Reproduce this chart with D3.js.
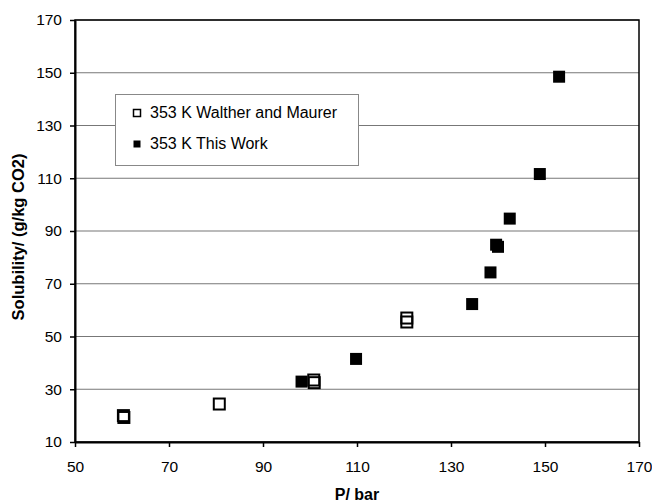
<!DOCTYPE html>
<html>
<head>
<meta charset="utf-8">
<script src="https://cdn.jsdelivr.net/npm/d3@7"></script>
<style>
  body { margin: 0; background: #fff; }
  text { font-family: "Liberation Sans", Arial, sans-serif; }
</style>
</head>
<body>
<div id="chart"></div>
<script>
// Walther and Maurer (open squares)
const waltherP = [60.3, 60.4, 80.7, 100.8, 100.9, 120.6, 120.6];
const waltherS = [20.0, 19.3, 24.4, 33.5, 32.5, 57.0, 55.5];

// This work (filled squares)
const workP = [98.2, 109.8, 134.5, 138.4, 139.6, 140.0, 142.5, 148.9, 153.0];
const workS = [32.9, 41.5, 62.3, 74.3, 84.8, 84.0, 94.7, 111.6, 148.5];

const xTicks = [50, 70, 90, 110, 130, 150, 170];
const yTicks = [10, 30, 50, 70, 90, 110, 130, 150, 170];

const legendLabels = ['353 K Walther and Maurer', '353 K This Work'];

const width = 652, height = 504;
const margin = { left: 75, right: 13, top: 20, bottom: 62 };

const svg = d3.select('#chart')
    .append('svg')
    .attr('width', width)
    .attr('height', height);

const x = d3.scaleLinear().domain([50, 170]).range([margin.left, width - margin.right]);
const y = d3.scaleLinear().domain([10, 170]).range([height - margin.bottom, margin.top]);

// Gridlines
svg.append('g')
    .selectAll('line')
    .data(yTicks)
    .enter()
    .append('line')
    .attr('x1', x(50))
    .attr('x2', x(170))
    .attr('y1', d => y(d))
    .attr('y2', d => y(d))
    .attr('stroke', '#777')
    .attr('stroke-width', 1.2);

// Plot border
svg.append('rect')
    .attr('x', x(50))
    .attr('y', y(170))
    .attr('width', x(170) - x(50))
    .attr('height', y(10) - y(170))
    .attr('fill', 'none')
    .attr('stroke', '#000')
    .attr('stroke-width', 1.5);

// Axes
const xAxis = svg.append('g')
    .attr('transform', `translate(0,${y(10)})`)
    .call(d3.axisBottom(x).tickValues(xTicks).tickSize(5).tickPadding(14).tickSizeOuter(0));
const yAxis = svg.append('g')
    .attr('transform', `translate(${x(50)},0)`)
    .call(d3.axisLeft(y).tickValues(yTicks).tickSize(5).tickPadding(8).tickSizeOuter(0));

[xAxis, yAxis].forEach(a => {
    a.select('.domain').attr('stroke', '#000').attr('stroke-width', 2);
    a.selectAll('.tick line').attr('stroke', '#000').attr('stroke-width', 1.5);
    a.selectAll('.tick text')
        .attr('fill', '#000')
        .style('font-size', '15.5px')
        .style('font-family', '"Liberation Sans", Arial, sans-serif');
});

// Axis titles
svg.append('text')
    .attr('x', (x(50) + x(170)) / 2)
    .attr('y', 500)
    .attr('text-anchor', 'middle')
    .style('font-size', '16px')
    .style('font-weight', 'bold')
    .text('P/ bar');

svg.append('text')
    .attr('transform', 'translate(24,237) rotate(-90)')
    .attr('text-anchor', 'middle')
    .style('font-size', '16.5px')
    .style('font-weight', 'bold')
    .text('Solubility/ (g/kg CO2)');

// Markers
const size = 11;
svg.append('g')
    .selectAll('rect')
    .data(waltherP.map((p, i) => [p, waltherS[i]]))
    .enter()
    .append('rect')
    .attr('x', d => x(d[0]) - size / 2)
    .attr('y', d => y(d[1]) - size / 2)
    .attr('width', size)
    .attr('height', size)
    .attr('fill', 'none')
    .attr('stroke', '#000')
    .attr('stroke-width', 2);

svg.append('g')
    .selectAll('rect')
    .data(workP.map((p, i) => [p, workS[i]]))
    .enter()
    .append('rect')
    .attr('x', d => x(d[0]) - 6)
    .attr('y', d => y(d[1]) - 6)
    .attr('width', 12)
    .attr('height', 12)
    .attr('fill', '#000');

// Legend
const legend = svg.append('g');
legend.append('rect')
    .attr('x', 115.5)
    .attr('y', 94.5)
    .attr('width', 243)
    .attr('height', 71)
    .attr('fill', '#fff')
    .attr('stroke', '#888')
    .attr('stroke-width', 1);

legendLabels.forEach((label, i) => {
    const cy = 112.5 + i * 31;
    legend.append('rect')
        .attr('x', 133.5)
        .attr('y', cy - 3)
        .attr('width', 7)
        .attr('height', 7)
        .attr('fill', i === 0 ? '#fff' : '#000')
        .attr('stroke', '#000')
        .attr('stroke-width', i === 0 ? 1.5 : 0);
    legend.append('text')
        .attr('x', 150)
        .attr('y', cy + 5.5)
        .style('font-size', '16px')
        .text(label);
});
</script>
</body>
</html>
